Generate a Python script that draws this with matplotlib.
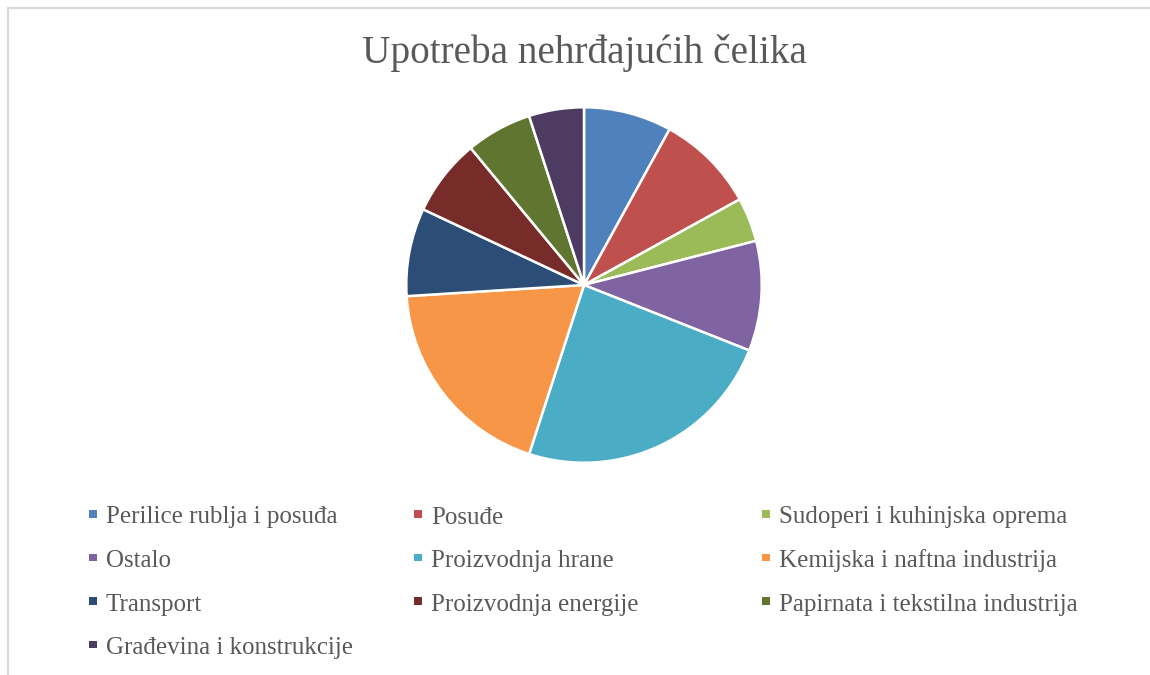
import matplotlib.pyplot as plt
from matplotlib.patches import Rectangle

# Data
labels = [
    "Perilice rublja i posuđa",
    "Posuđe",
    "Sudoperi i kuhinjska oprema",
    "Ostalo",
    "Proizvodnja hrane",
    "Kemijska i naftna industrija",
    "Transport",
    "Proizvodnja energije",
    "Papirnata i tekstilna industrija",
    "Građevina i konstrukcije",
]
shares = [8, 9, 4, 10, 24, 19, 8, 7, 6, 5]
colors = [
    "#4F81BD", "#C0504D", "#9BBB59", "#8064A2", "#4BACC6",
    "#F79646", "#2C4D75", "#772C2A", "#5F7530", "#4D3B62",
]

W, H = 1150, 675
text_color = "#595959"
font = ["Liberation Serif", "DejaVu Serif"]

fig = plt.figure(figsize=(W / 100, H / 100), dpi=100)

# Chart frame (only top and left edges are visible in the crop)
fig.add_artist(Rectangle((8 / W, -0.1), 1.2, (H - 8) / H + 0.1,
                         transform=fig.transFigure, fill=False,
                         edgecolor="#D9D9D9", linewidth=1.5))

# Pie
cx, cy, r = 584, 285, 179.5
ax = fig.add_axes([(cx - r) / W, 1 - (cy + r) / H, 2 * r / W, 2 * r / H])
wedges, _ = ax.pie(
    shares,
    colors=colors,
    startangle=90,
    counterclock=False,
    radius=1,
    wedgeprops=dict(edgecolor="white", linewidth=1.8),
)
ax.set_xlim(-1.01, 1.01)
ax.set_ylim(-1.01, 1.01)
ax.set_aspect("equal")
ax.axis("off")

# Title
fig.text(cx / W, 1 - 63.5 / H, "Upotreba nehrđajućih čelika",
         ha="center", va="baseline", fontsize=28.3, color=text_color,
         family=font)

# Legend, row by row in three columns
col_x = [89, 414, 762]
row_base = [523.5, 567, 610.5, 654.3]
for i, (label, wedge) in enumerate(zip(labels, wedges)):
    row, col = divmod(i, 3)
    x = col_x[col]
    y = row_base[row]
    fig.add_artist(Rectangle((x / W, 1 - (y - 6) / H), 7.5 / W, 7.5 / H,
                             transform=fig.transFigure,
                             facecolor=wedge.get_facecolor(),
                             edgecolor="none"))
    fig.text((x + 17) / W, 1 - y / H, label, ha="left", va="baseline",
             fontsize=18, color=text_color, family=font)

fig.savefig("out.png", dpi=100)
